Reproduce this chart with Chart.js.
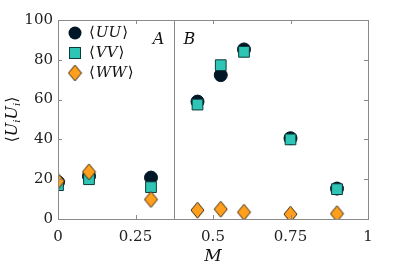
<!DOCTYPE html>
<html>
<head>
<meta charset="utf-8">
<script src="https://cdn.jsdelivr.net/npm/chart.js@4/dist/chart.umd.min.js"></script>
<style>
  html, body { margin: 0; padding: 0; background: #fff; }
  #wrap { width: 407px; height: 271px; }
</style>
</head>
<body>
<div id="wrap"><canvas id="chart" width="407" height="271"></canvas></div>
<script>
// valores de M
const mValues = [0, 0.1, 0.3, 0.45, 0.525, 0.6, 0.75, 0.9];
// series
const uuData = [18.5, 21.5, 20.8, 59, 72.3, 85.2, 40.6, 15.3];
const vvData = [17, 20, 16, 57.5, 77.3, 84, 40, 15];
const wwData = [19, 23.7, 9.8, 4.4, 4.9, 3.4, 2.4, 2.7];
// ticks
const xTicks = [0, 0.25, 0.5, 0.75, 1];
const yTicks = [0, 20, 40, 60, 80, 100];
const xTickLabels = ["0", "0.25", "0.5", "0.75", "1"];
// linea A/B
const splitM = 0.375;

const NAVY = "#011627";
const TEAL = "#2ec4b6";
const ORANGE = "#ff9f1c";
const FRAME = "#8a8a8a";
const SERIF = '"DejaVu Serif", serif';

function toPoints(ys) {
  return mValues.map((m, i) => ({ x: m, y: ys[i] }));
}

// rombo un poco mas alto que ancho
function makeDiamond(w, h, fill, stroke) {
  const c = document.createElement("canvas");
  c.width = w + 2;
  c.height = h + 2;
  const g = c.getContext("2d");
  g.beginPath();
  g.moveTo(c.width / 2, 1);
  g.lineTo(c.width - 1, c.height / 2);
  g.lineTo(c.width / 2, c.height - 1);
  g.lineTo(1, c.height / 2);
  g.closePath();
  g.fillStyle = fill;
  g.fill();
  g.lineWidth = 1;
  g.strokeStyle = stroke;
  g.stroke();
  return c;
}

const diamond = makeDiamond(13, 16, ORANGE, "#3a2a10");

const framePlugin = {
  id: "frame",
  afterDatasetsDraw(chart) {
    const { ctx, chartArea: a, scales } = chart;
    const xs = scales.x, ys = scales.y;
    ctx.save();
    ctx.strokeStyle = FRAME;
    ctx.lineWidth = 1;
    // caja
    ctx.strokeRect(a.left + 0.5, a.top + 0.5, a.right - a.left, a.bottom - a.top);
    // ticks hacia dentro
    ctx.beginPath();
    xTicks.forEach(v => {
      const px = Math.round(xs.getPixelForValue(v)) + 0.5;
      ctx.moveTo(px, a.bottom); ctx.lineTo(px, a.bottom - 4);
      ctx.moveTo(px, a.top); ctx.lineTo(px, a.top + 4);
    });
    yTicks.forEach(v => {
      const py = Math.round(ys.getPixelForValue(v)) + 0.5;
      ctx.moveTo(a.left, py); ctx.lineTo(a.left + 4, py);
      ctx.moveTo(a.right, py); ctx.lineTo(a.right - 4, py);
    });
    ctx.stroke();
    // linea vertical A | B
    const sx = Math.round(xs.getPixelForValue(splitM)) + 0.5;
    ctx.beginPath();
    ctx.moveTo(sx, a.top); ctx.lineTo(sx, a.bottom);
    ctx.stroke();

    ctx.fillStyle = "#111";
    ctx.font = "italic 16px " + SERIF;
    ctx.textBaseline = "middle";
    ctx.textAlign = "center";
    ctx.fillText("A", sx - 16, a.top + 20);
    ctx.fillText("B", sx + 15, a.top + 20);

    // leyenda
    const lx = a.left + 17, tx = a.left + 31;
    const rows = [
      { y: a.top + 13, label: "UU" },
      { y: a.top + 33, label: "VV" },
      { y: a.top + 53, label: "WW" }
    ];
    ctx.beginPath();
    ctx.arc(lx, rows[0].y, 6.5, 0, Math.PI * 2);
    ctx.fillStyle = NAVY; ctx.fill();
    ctx.fillStyle = TEAL;
    ctx.fillRect(lx - 5.5, rows[1].y - 5.5, 11, 11);
    ctx.strokeStyle = "#0d3b37";
    ctx.strokeRect(lx - 5.5, rows[1].y - 5.5, 11, 11);
    ctx.drawImage(diamond, lx - diamond.width / 2, rows[2].y - diamond.height / 2);

    ctx.fillStyle = "#111";
    ctx.textAlign = "left";
    rows.forEach(r => {
      ctx.font = "15px " + SERIF;
      ctx.fillText("\u27E8", tx, r.y);
      let w = ctx.measureText("\u27E8").width;
      ctx.font = "italic 15px " + SERIF;
      ctx.fillText(r.label, tx + w + 1, r.y);
      w += ctx.measureText(r.label).width + 2;
      ctx.font = "15px " + SERIF;
      ctx.fillText("\u27E9", tx + w, r.y);
    });

    // titulo eje y: <U_i U_i>
    ctx.save();
    ctx.translate(13, (a.top + a.bottom) / 2);
    ctx.rotate(-Math.PI / 2);
    const parts = [
      { t: "\u27E8", f: "16px " + SERIF, dy: 0 },
      { t: "U", f: "italic 16px " + SERIF, dy: 0 },
      { t: "i", f: "italic 10px " + SERIF, dy: 4 },
      { t: "U", f: "italic 16px " + SERIF, dy: 0 },
      { t: "i", f: "italic 10px " + SERIF, dy: 4 },
      { t: "\u27E9", f: "16px " + SERIF, dy: 0 }
    ];
    let total = 0;
    parts.forEach(p => { ctx.font = p.f; p.w = ctx.measureText(p.t).width; total += p.w; });
    let cx = -total / 2;
    ctx.textAlign = "left";
    parts.forEach(p => {
      ctx.font = p.f;
      ctx.fillText(p.t, cx, p.dy);
      cx += p.w;
    });
    ctx.restore();

    // titulo eje x
    ctx.font = "italic 17px " + SERIF;
    ctx.textAlign = "center";
    ctx.fillText("M", (a.left + a.right) / 2, 257);
    ctx.restore();
  }
};

window.addEventListener("load", () => {
  const ctx = document.getElementById("chart").getContext("2d");
  new Chart(ctx, {
    type: "scatter",
    data: {
      datasets: [
        {
          label: "UU",
          data: toPoints(uuData),
          pointStyle: "circle",
          pointRadius: 6.5,
          pointHoverRadius: 6.5,
          backgroundColor: NAVY,
          borderColor: NAVY,
          borderWidth: 1,
          order: 3
        },
        {
          label: "VV",
          data: toPoints(vvData),
          pointStyle: "rect",
          pointRadius: 7.6,
          pointHoverRadius: 7.6,
          backgroundColor: TEAL,
          borderColor: "#0d3b37",
          borderWidth: 1,
          order: 2
        },
        {
          label: "WW",
          data: toPoints(wwData),
          pointStyle: diamond,
          backgroundColor: ORANGE,
          order: 1
        }
      ]
    },
    options: {
      responsive: false,
      animation: false,
      events: [],
      layout: { padding: { left: 0, right: 39, top: 20, bottom: 0 } },
      plugins: {
        legend: { display: false },
        tooltip: { enabled: false }
      },
      scales: {
        x: {
          type: "linear",
          min: 0,
          max: 1,
          afterBuildTicks: (s) => { s.ticks = xTicks.map(v => ({ value: v })); },
          afterFit: (s) => { s.height = 52; },
          grid: { display: false, drawTicks: false },
          border: { display: false },
          ticks: {
            padding: 9,
            color: "#222",
            font: { family: SERIF, size: 15 },
            callback: (v) => xTickLabels[xTicks.indexOf(v)]
          }
        },
        y: {
          min: 0,
          max: 100,
          afterBuildTicks: (s) => { s.ticks = yTicks.map(v => ({ value: v })); },
          afterFit: (s) => { s.width = 58; },
          grid: { display: false, drawTicks: false },
          border: { display: false },
          ticks: {
            padding: 5,
            color: "#222",
            font: { family: SERIF, size: 15 }
          }
        }
      }
    },
    plugins: [framePlugin]
  });
});
</script>
</body>
</html>
